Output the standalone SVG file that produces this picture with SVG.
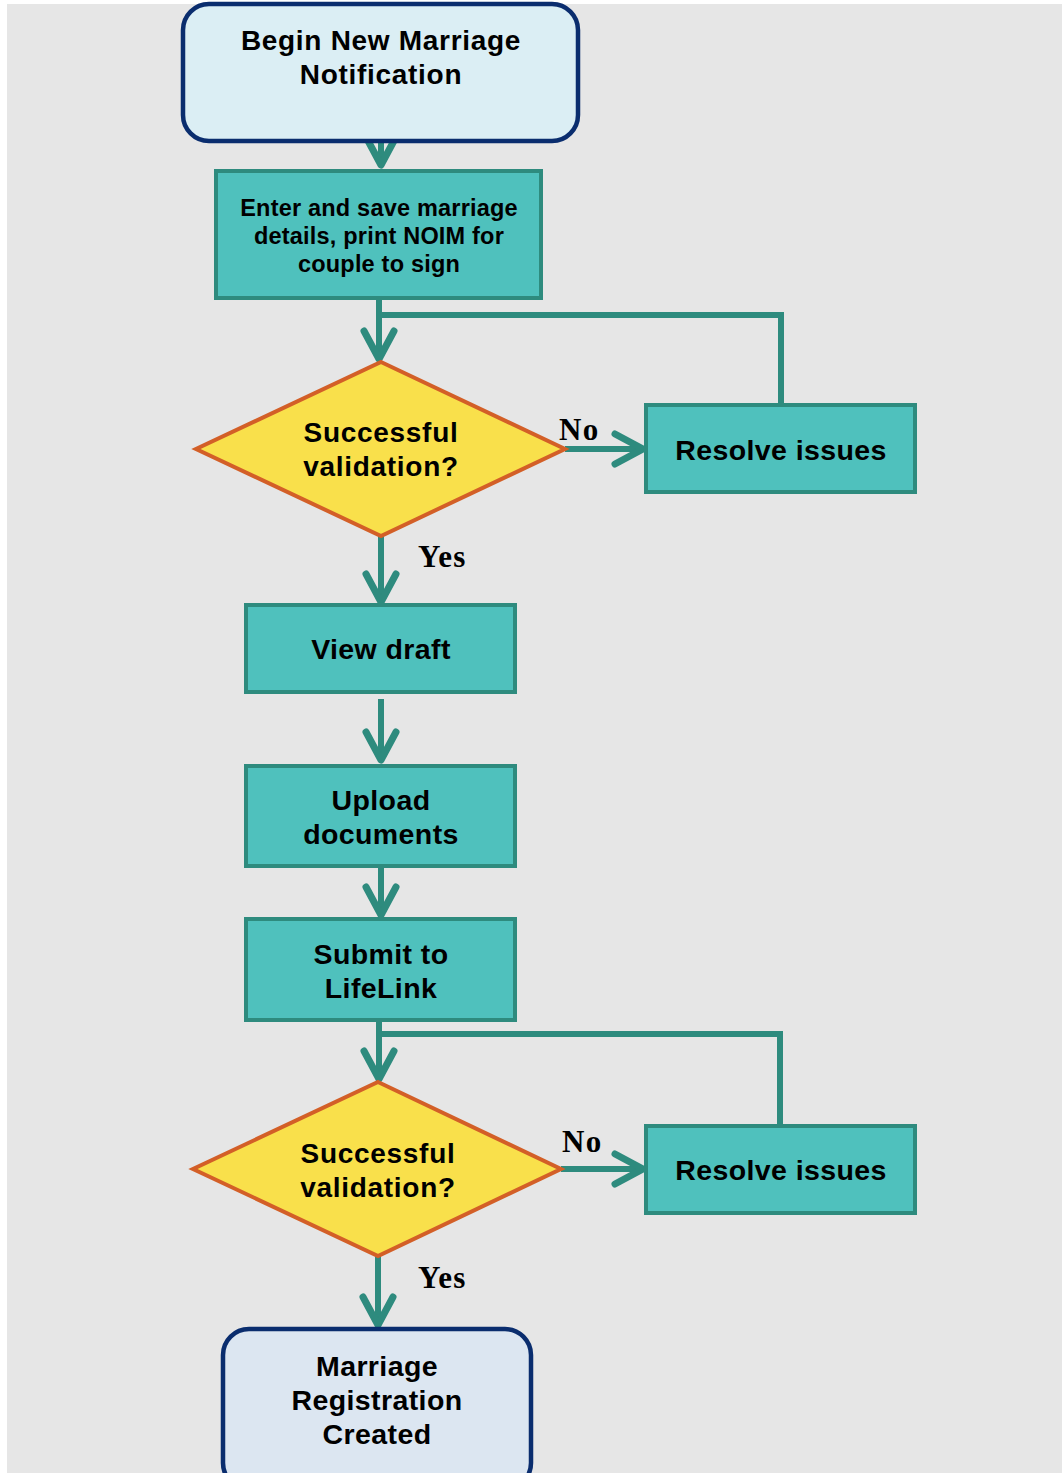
<svg xmlns="http://www.w3.org/2000/svg" width="1062" height="1473" viewBox="0 0 1062 1473">
<defs>
<marker id="chev" markerUnits="userSpaceOnUse" orient="auto" refX="0" refY="0" markerWidth="60" markerHeight="60" viewBox="-40 -30 60 60" overflow="visible">
<path d="M -28,-15 L 0,0 L -28,15" fill="none" stroke="#2e8b7e" stroke-width="7" stroke-linecap="round" stroke-linejoin="round"/>
</marker>
</defs>
<style>
.t{font-family:"Liberation Sans",Arial,sans-serif;font-weight:bold;fill:#000;text-anchor:middle}
.big{font-size:28px;letter-spacing:0.7px}
.med{font-size:28.5px;letter-spacing:0.4px}
.sm{font-size:23.5px;letter-spacing:0.2px}
.lbl{font-family:"Liberation Serif","Times New Roman",serif;font-weight:bold;fill:#000;font-size:31px;letter-spacing:1.3px}
.proc{fill:#4fc1bd;stroke:#2e8b7e;stroke-width:4}
.term{stroke:#0a2d6e;stroke-width:4.5}
.dec{fill:#f9e04b;stroke:#d35f27;stroke-width:4}
.c{fill:none;stroke:#2e8b7e;stroke-width:6}
</style>
<rect x="0" y="0" width="1062" height="1473" fill="#ffffff"/>
<rect x="7" y="4" width="1055" height="1469" fill="#e6e6e6"/>

<g id="connectors">
<path class="c" d="M381,134 L381,165" marker-end="url(#chev)"/>
<path class="c" d="M379,298 L379,359" marker-end="url(#chev)"/>
<path class="c" d="M379,315 L781,315 L781,405"/>
<path class="c" d="M565,449 L643,449" marker-end="url(#chev)"/>
<path class="c" d="M381,536 L381,602" marker-end="url(#chev)"/>
<path class="c" d="M381,699 L381,760" marker-end="url(#chev)"/>
<path class="c" d="M381,866 L381,915" marker-end="url(#chev)"/>
<path class="c" d="M379,1020 L379,1079" marker-end="url(#chev)"/>
<path class="c" d="M379,1034 L780,1034 L780,1126"/>
<path class="c" d="M561,1169 L643,1169" marker-end="url(#chev)"/>
<path class="c" d="M378,1256 L378,1325" marker-end="url(#chev)"/>
</g>

<g id="labels">
<text class="lbl" x="559" y="440">No</text>
<text class="lbl" x="562" y="1152">No</text>
<text class="lbl" x="418" y="567">Yes</text>
<text class="lbl" x="418" y="1288">Yes</text>
</g>

<g id="start">
<rect class="term" x="183" y="4" width="395" height="137" rx="26" fill="#dbeef4"/>
<text class="t big" x="381" y="50">Begin New Marriage</text>
<text class="t big" x="381" y="84">Notification</text>
</g>

<g id="enter">
<rect class="proc" x="216" y="171" width="325" height="127"/>
<text class="t sm" x="379" y="216">Enter and save marriage</text>
<text class="t sm" x="379" y="244">details, print NOIM for</text>
<text class="t sm" x="379" y="272">couple to sign</text>
</g>

<g id="decision1">
<polygon class="dec" points="381,362 565,449 381,536 196,449"/>
<text class="t big" x="381" y="442">Successful</text>
<text class="t big" x="381" y="476">validation?</text>
</g>

<g id="resolve1">
<rect class="proc" x="646" y="405" width="269" height="87"/>
<text class="t med" x="781" y="460">Resolve issues</text>
</g>

<g id="viewdraft">
<rect class="proc" x="246" y="605" width="269" height="87"/>
<text class="t med" x="381" y="659">View draft</text>
</g>

<g id="upload">
<rect class="proc" x="246" y="766" width="269" height="100"/>
<text class="t med" x="381" y="810">Upload</text>
<text class="t med" x="381" y="844">documents</text>
</g>

<g id="submit">
<rect class="proc" x="246" y="919" width="269" height="101"/>
<text class="t med" x="381" y="964">Submit to</text>
<text class="t med" x="381" y="998">LifeLink</text>
</g>

<g id="decision2">
<polygon class="dec" points="378,1082 561,1169 378,1256 193,1169"/>
<text class="t big" x="378" y="1163">Successful</text>
<text class="t big" x="378" y="1197">validation?</text>
</g>

<g id="resolve2">
<rect class="proc" x="646" y="1126" width="269" height="87"/>
<text class="t med" x="781" y="1180">Resolve issues</text>
</g>

<g id="end">
<rect class="term" x="223" y="1329" width="308" height="160" rx="26" fill="#dce6f1"/>
<text class="t med" x="377" y="1376">Marriage</text>
<text class="t med" x="377" y="1410">Registration</text>
<text class="t med" x="377" y="1444">Created</text>
</g>
</svg>
